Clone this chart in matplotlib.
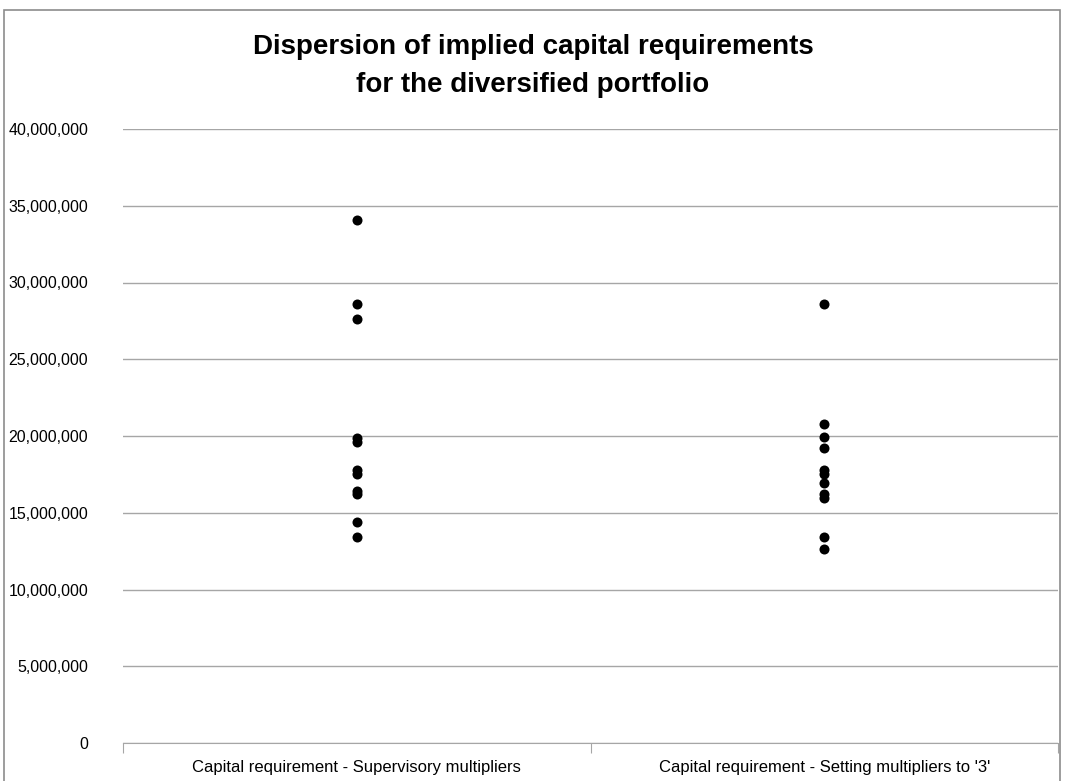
import numpy as np
import matplotlib.pyplot as plt
from matplotlib.patches import Rectangle
from matplotlib.ticker import FuncFormatter

plt.rcParams['font.family'] = ['Liberation Sans Narrow', 'Liberation Sans', 'DejaVu Sans']

# Categories and values
categories = ['Capital requirement - Supervisory multipliers',
              "Capital requirement - Setting multipliers to '3'"]
supervisory = [34.1e6, 28.6e6, 27.6e6, 19.9e6, 19.6e6, 17.8e6, 17.5e6,
               16.4e6, 16.2e6, 14.4e6, 13.4e6]
set_to_3 = [28.6e6, 20.8e6, 19.95e6, 19.25e6, 17.8e6, 17.55e6, 16.95e6,
            16.25e6, 15.95e6, 13.4e6, 12.65e6]

fig = plt.figure(figsize=(10.66, 7.81), dpi=100)
ax = fig.add_axes([123/1066, 1 - 743/781, 935/1066, 614/781])

# outer chart border
fig.patches.append(Rectangle((4/1066, -0.02), 1058/1066 - 4/1066 + 0.002, 1.02 - 10/781,
                             transform=fig.transFigure, fill=False,
                             edgecolor='#8c8c8c', linewidth=1.2))

for i, vals in enumerate([supervisory, set_to_3]):
    ax.scatter(np.full(len(vals), i + 0.5), vals, s=52, color='black',
               zorder=3, linewidths=0)

ax.set_xlim(0, 2)
ax.set_ylim(0, 40e6)
ax.set_yticks(np.arange(0, 40e6 + 1, 5e6))
ax.yaxis.set_major_formatter(FuncFormatter(lambda v, p: f'{int(v):,}'))
ax.grid(axis='y', color='#a6a6a6', linewidth=1)
ax.set_axisbelow(True)
ax.tick_params(axis='y', length=0, pad=25, labelsize=11.5)

ax.set_xticks([0, 1, 2])
ax.set_xticklabels([])
ax.set_xticks([0.5, 1.5], minor=True)
ax.set_xticklabels(categories, minor=True, fontsize=12)
ax.tick_params(axis='x', which='major', length=7, color='#a6a6a6')
ax.tick_params(axis='x', which='minor', length=0, pad=12)

for s in ['left', 'right', 'top']:
    ax.spines[s].set_visible(False)
ax.spines['bottom'].set_color('#a6a6a6')

fig.text(0.5, 1 - 66/781, 'Dispersion of implied capital requirements\nfor the diversified portfolio',
         ha='center', va='center', fontsize=20, fontweight='bold', linespacing=1.6)

fig.savefig('out.png')
